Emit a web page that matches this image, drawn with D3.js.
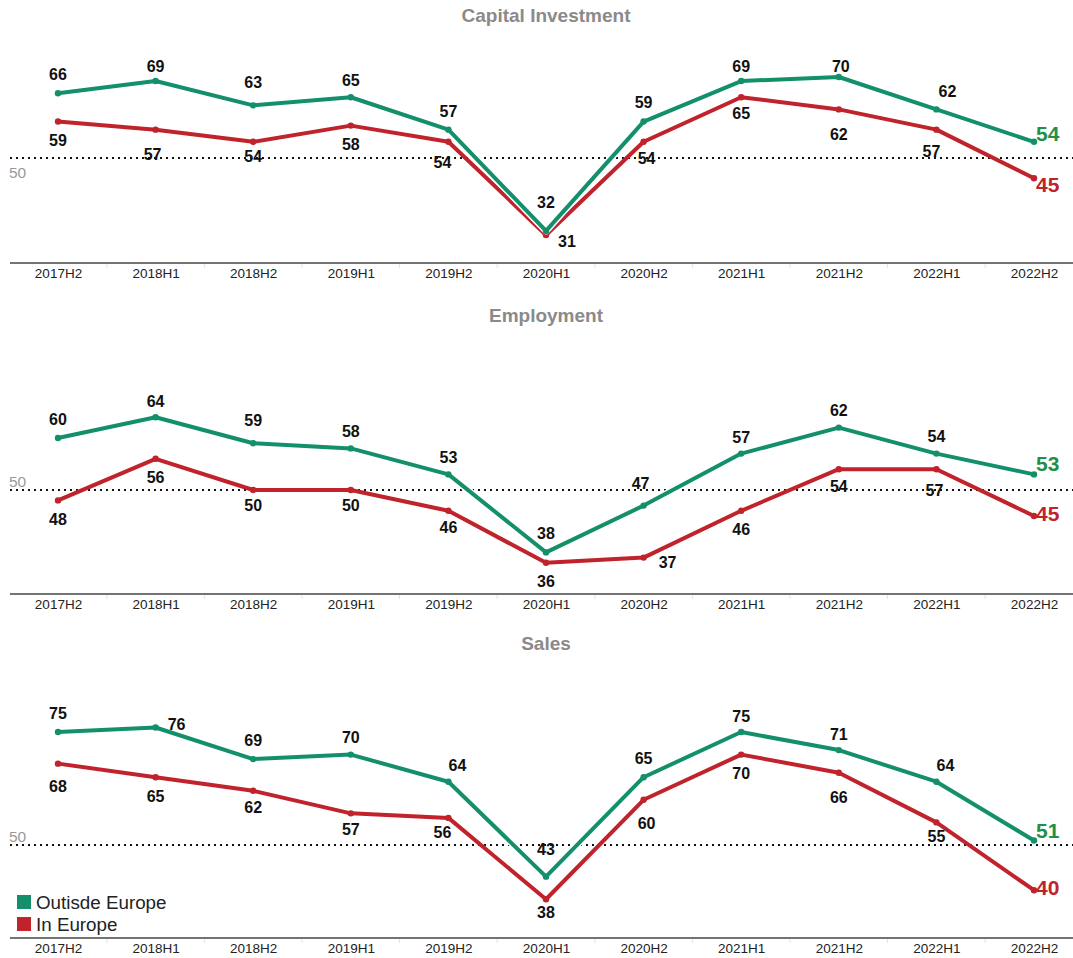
<!DOCTYPE html>
<html>
<head>
<meta charset="utf-8">
<script src="https://cdn.jsdelivr.net/npm/d3@7"></script>
<style>
  html, body { margin: 0; padding: 0; background: #fff; }
  svg { display: block; font-family: "Liberation Sans", Arial, sans-serif; }
</style>
</head>
<body>
<svg id="chart" width="1073" height="958"></svg>
<script>
// ---------- data ----------
const categories = ["2017H2","2018H1","2018H2","2019H1","2019H2","2020H1","2020H2","2021H1","2021H2","2022H1","2022H2"];
const seriesNames = ["Outisde Europe", "In Europe"];

const capitalOutside = [66, 69, 63, 65, 57, 32, 59, 69, 70, 62, 54];
const capitalInside  = [59, 57, 54, 58, 54, 31, 54, 65, 62, 57, 45];

const employmentOutside       = [60, 64, 59, 58, 53, 38, 47, 57, 62, 57, 53];
const employmentOutsideLabels = [60, 64, 59, 58, 53, 38, 47, 57, 62, 54, 53];
const employmentInside        = [48, 56, 50, 50, 46, 36, 37, 46, 54, 54, 45];
const employmentInsideLabels  = [48, 56, 50, 50, 46, 36, 37, 46, 54, 57, 45];

const salesOutside = [75, 76, 69, 70, 64, 43, 65, 75, 71, 64, 51];
const salesInside  = [68, 65, 62, 57, 56, 38, 60, 70, 66, 55, 40];

const referenceValue = 50;

// ---------- layout / style ----------
const GREEN = "#13906b", RED = "#c0232b";
const GREEN_TXT = "#1f9147", RED_TXT = "#c0232b";

const panels = [
  { key: "cap", title: "Capital Investment", titleY: 15, axisY: 263, y50: 158, ppu: 4.05,
    outside: capitalOutside, inside: capitalInside,
    outsideLabels: capitalOutside, insideLabels: capitalInside,
    refLabelDy: 14, endDy: [-8, 6] },
  { key: "emp", title: "Employment", titleY: 315, axisY: 594, y50: 490, ppu: 5.2,
    outside: employmentOutside, inside: employmentInside,
    outsideLabels: employmentOutsideLabels, insideLabels: employmentInsideLabels,
    refLabelDy: -9, endDy: [-11, -3] },
  { key: "sal", title: "Sales", titleY: 643, axisY: 938, y50: 845, ppu: 4.52,
    outside: salesOutside, inside: salesInside,
    outsideLabels: salesOutside, insideLabels: salesInside,
    refLabelDy: -9, endDy: [-10, -3] }
];

// label nudges [dx, dy] (default: outside above, inside below)
const nudges = {
  "cap-o-1": [0,-15], "cap-o-2": [0,-23], "cap-o-3": [0,-17], "cap-o-5": [0,-28], "cap-o-7": [0,-15], "cap-o-8": [2,-11], "cap-o-9": [11,-18], "cap-o-4": [0,-18],
  "cap-i-1": [-3,25], "cap-i-2": [0,15], "cap-i-4": [-6,21], "cap-i-5": [21,7], "cap-i-6": [3,17], "cap-i-7": [0,16], "cap-i-8": [0,25], "cap-i-9": [-5,22],
  "emp-o-1": [0,-16], "emp-o-2": [0,-23], "emp-o-3": [0,-17], "emp-o-4": [0,-17], "emp-o-6": [-3,-22], "emp-o-7": [0,-16], "emp-o-8": [0,-17], "emp-o-9": [0,-17],
  "emp-i-2": [0,15], "emp-i-3": [0,15], "emp-i-4": [0,17], "emp-i-6": [24,5], "emp-i-8": [0,17], "emp-i-9": [-2,21],
  "sal-o-1": [21,-3], "sal-o-4": [9,-16], "sal-o-5": [0,-27], "sal-o-7": [0,-16], "sal-o-8": [0,-16], "sal-o-9": [9,-16], "sal-o-3": [0,-17],
  "sal-i-0": [0,23], "sal-i-2": [0,17], "sal-i-3": [0,16], "sal-i-4": [-6,15], "sal-i-5": [0,13], "sal-i-6": [3,24], "sal-i-8": [0,25], "sal-i-9": [0,14]
};

const svg = d3.select("#chart");
const x = d3.scalePoint().domain(categories).range([58, 1034]);
const step = x.step();

panels.forEach(p => {
  const y = d3.scaleLinear().domain([referenceValue, referenceValue + 10]).range([p.y50, p.y50 - 10 * p.ppu]);
  const g = svg.append("g");

  // title
  g.append("text").attr("x", 546).attr("y", p.titleY).attr("text-anchor", "middle")
    .attr("dominant-baseline", "central").attr("font-size", 19).attr("font-weight", "bold")
    .attr("fill", "#8a8a8a").text(p.title);

  // reference line
  g.append("line").attr("x1", 10).attr("x2", 1073).attr("y1", y(referenceValue)).attr("y2", y(referenceValue))
    .attr("stroke", "#111").attr("stroke-width", 2).attr("stroke-dasharray", "2,4");
  g.append("text").attr("x", 9).attr("y", y(referenceValue) + p.refLabelDy).attr("dominant-baseline", "central")
    .attr("font-size", 15.5).attr("fill", "#9a9a9a").text(String(referenceValue));

  // x axis
  const axis = g.append("g").attr("transform", `translate(0,${p.axisY})`)
    .call(d3.axisBottom(x).tickSize(0).tickPadding(5));
  axis.select(".domain").remove();
  axis.selectAll("text").attr("font-size", 13.5).attr("fill", "#222")
    .attr("font-family", "Liberation Sans, Arial, sans-serif");
  axis.append("line").attr("x1", 10).attr("x2", 1073).attr("y1", 0).attr("y2", 0)
    .attr("stroke", "#444").attr("stroke-width", 1.3);
  axis.selectAll(".sep").data(categories.slice(0, -1)).enter().append("line")
    .attr("x1", d => x(d) + step / 2).attr("x2", d => x(d) + step / 2)
    .attr("y1", 1).attr("y2", 5).attr("stroke", "#e4e4e4");

  const line = d3.line().x((d, i) => x(categories[i])).y(d => y(d));

  const drawSeries = (vals, color, halo) => {
    if (halo) {
      g.append("path").datum(vals).attr("d", line).attr("fill", "none")
        .attr("stroke", "#fff").attr("stroke-width", 7).attr("stroke-linejoin", "round");
    }
    g.append("path").datum(vals).attr("d", line).attr("fill", "none")
      .attr("stroke", color).attr("stroke-width", 4).attr("stroke-linejoin", "round");
    g.selectAll(null).data(vals).enter().append("circle")
      .attr("cx", (d, i) => x(categories[i])).attr("cy", d => y(d)).attr("r", 3.2).attr("fill", color);
  };
  drawSeries(p.inside, RED, false);
  drawSeries(p.outside, GREEN, true);

  const drawLabels = (vals, labels, code, defDy, endColor, endDy) => {
    vals.forEach((v, i) => {
      const last = i === vals.length - 1;
      if (last) {
        g.append("text").attr("x", x(categories[i]) + 2).attr("y", y(v) + endDy)
          .attr("dominant-baseline", "central").attr("font-size", 21).attr("font-weight", "bold")
          .attr("fill", endColor).text(labels[i]);
      } else {
        const n = nudges[`${p.key}-${code}-${i}`] || [0, defDy];
        g.append("text").attr("x", x(categories[i]) + n[0]).attr("y", y(v) + n[1])
          .attr("text-anchor", "middle").attr("dominant-baseline", "central")
          .attr("font-size", 16).attr("font-weight", "bold").attr("fill", "#111").text(labels[i]);
      }
    });
  };
  drawLabels(p.outside, p.outsideLabels, "o", -19, GREEN_TXT, p.endDy[0]);
  drawLabels(p.inside, p.insideLabels, "i", 19, RED_TXT, p.endDy[1]);
});

// legend
const legend = svg.append("g");
const legendColors = [GREEN, RED];
seriesNames.forEach((name, i) => {
  legend.append("rect").attr("x", 17).attr("y", 895 + i * 22).attr("width", 14).attr("height", 14).attr("fill", legendColors[i]);
  legend.append("text").attr("x", 36).attr("y", 902 + i * 22).attr("dominant-baseline", "central")
    .attr("font-size", 18.8).attr("fill", "#222").text(name);
});
</script>
</body>
</html>
